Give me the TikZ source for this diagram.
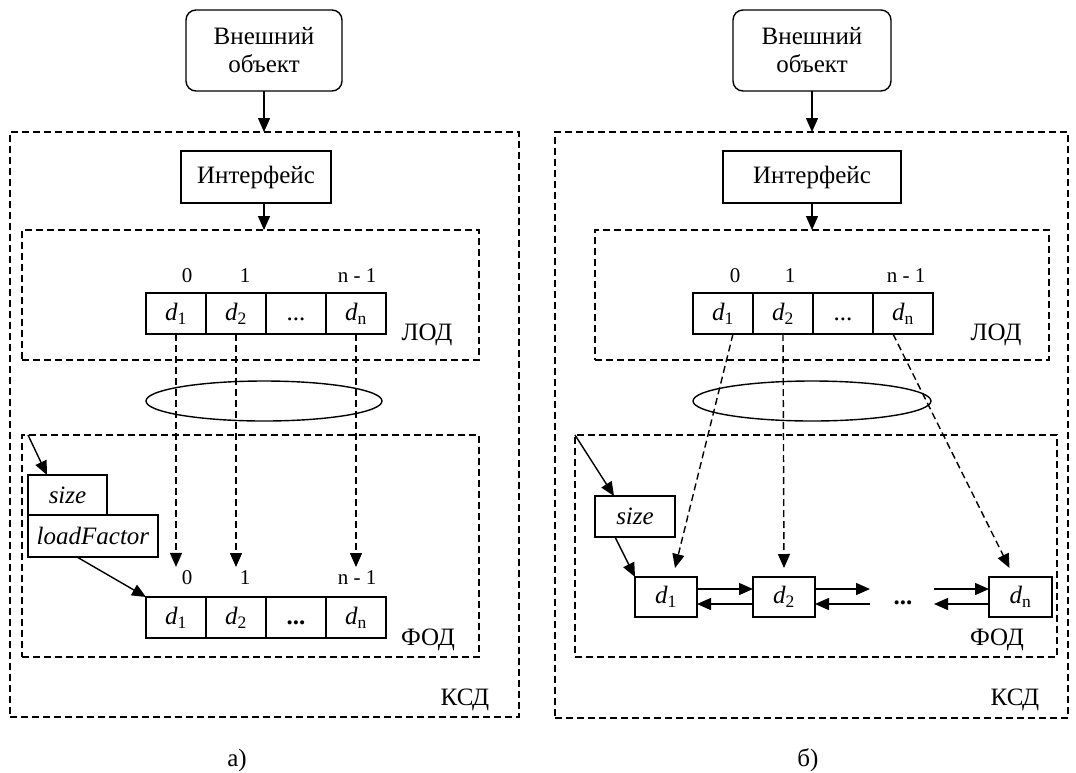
\documentclass[tikz,border=0pt]{standalone}
\usepackage{fontspec}
\setmainfont{Liberation Serif}
\usetikzlibrary{arrows.meta,positioning,shapes.geometric}

\begin{document}
\begin{tikzpicture}[x=1pt,y=-1pt,line width=1.4pt,
    >={Triangle[length=14pt,width=12pt]},
    every node/.style={font=\fontsize{25}{28}\selectfont},
    dashframe/.style={draw,line width=1.3pt,dash pattern=on 7pt off 4pt,inner sep=0pt,outer sep=0pt,anchor=north west},
    solidbox/.style={draw,inner sep=0pt,outer sep=0pt},
    cell/.style={solidbox,minimum width=60pt,minimum height=41pt},
    elem/.style={solidbox,minimum width=62pt,minimum height=40pt},
    idx/.style={font=\fontsize{21}{23}\selectfont},
    linkdash/.style={->,dash pattern=on 7pt off 4pt}]
        \useasboundingbox (0,0) rectangle (1076,772);

        % a) array
        \node[dashframe,minimum width=509pt,minimum height=585pt] (ksdA) at (10,132) {};
        \node[dashframe,minimum width=457pt,minimum height=130pt] (lodA) at (22,230) {};
        \node[dashframe,minimum width=457pt,minimum height=222pt] (fodA) at (22,435) {};
        \node[solidbox,rounded corners=10pt,minimum width=156pt,minimum height=81pt,align=center] (extA) at (264,50.5) {Внешний\\объект};
        \node[solidbox,minimum width=150pt,minimum height=52pt] (intA) at (256,177) {Интерфейс};
        \draw[->] (extA) -- (extA |- ksdA.north);
        \draw[->] (intA.south -| extA) -- (extA |- lodA.north);

        \node[cell] (la1) at (176,313.5) {\textit{d}\textsubscript{1}};
        \node[cell,right=0pt of la1] (la2) {\textit{d}\textsubscript{2}};
        \node[cell,right=0pt of la2] (la3) {\vphantom{\textit{d}\textsubscript{1}}...};
        \node[cell,right=0pt of la3] (la4) {\textit{d}\textsubscript{n}};
        \node[idx] (ia1) at (187,276) {0};
        \node[idx] (ia2) at (245,276) {1};
        \node[idx] (ia4) at (357,276) {n - 1};
        \node (lodlabA) at (427,335) {ЛОД};

        \node[draw,ellipse,minimum width=236pt,minimum height=40pt,inner sep=0pt] (ovA) at (264,401) {};

        \node[solidbox,minimum width=79pt,minimum height=40pt,anchor=north west] (szA) at (28,475) {\textit{size}};
        \node[solidbox,minimum width=130pt,minimum height=42pt,anchor=north west] (lfA) at (szA.south west) {\textit{loadFactor}};
        \node[cell] (fa1) at (176,617.5) {\textit{d}\textsubscript{1}};
        \node[cell,right=0pt of fa1] (fa2) {\textit{d}\textsubscript{2}};
        \node[cell,right=0pt of fa2] (fa3) {\vphantom{\textit{d}\textsubscript{1}}\textbf{...}};
        \node[cell,right=0pt of fa3] (fa4) {\textit{d}\textsubscript{n}};
        \node[idx] (ib1) at (187,578) {0};
        \node[idx] (ib2) at (245,578) {1};
        \node[idx] (ib4) at (357,578) {n - 1};
        \node (fodlabA) at (428,640) {ФОД};
        \node (ksdlabA) at (465,700) {КСД};

        \draw[linkdash] (la1.south) -- (la1.south |- ib1.north);
        \draw[linkdash] (la2.south) -- (la2.south |- ib2.north);
        \draw[linkdash] (la4.south) -- (la4.south |- ib4.north);
        \draw[->] ([xshift=6pt]fodA.north west) -- ([xshift=19pt]szA.north west);
        \draw[->] ([xshift=49pt]lfA.south west) -- (fa1.north west);

        \node (capA) at (237,760) {а)};

        % b) list
        \node[dashframe,minimum width=513pt,minimum height=586pt] (ksdB) at (555,132) {};
        \node[dashframe,minimum width=454pt,minimum height=130pt] (lodB) at (595,230) {};
        \node[dashframe,minimum width=482pt,minimum height=222pt] (fodB) at (575,435) {};
        \node[solidbox,rounded corners=10pt,minimum width=158pt,minimum height=81pt,align=center] (extB) at (812,50.5) {Внешний\\объект};
        \node[solidbox,minimum width=178pt,minimum height=52pt] (intB) at (812,177) {Интерфейс};
        \draw[->] (extB) -- (extB |- ksdB.north);
        \draw[->] (intB.south -| extB) -- (extB |- lodB.north);

        \node[cell] (lb1) at (723,313.5) {\textit{d}\textsubscript{1}};
        \node[cell,right=0pt of lb1] (lb2) {\textit{d}\textsubscript{2}};
        \node[cell,right=0pt of lb2] (lb3) {\vphantom{\textit{d}\textsubscript{1}}...};
        \node[cell,right=0pt of lb3] (lb4) {\textit{d}\textsubscript{n}};
        \node[idx] (ic1) at (735,276) {0};
        \node[idx] (ic2) at (790,276) {1};
        \node[idx] (ic4) at (906,276) {n - 1};
        \node (lodlabB) at (996,335) {ЛОД};

        \node[draw,ellipse,minimum width=238pt,minimum height=40pt,inner sep=0pt] (ovB) at (812,401) {};

        \node[solidbox,minimum width=80pt,minimum height=41pt,anchor=north west] (szB) at (595,496) {\textit{size}};
        \node[elem] (nb1) at (666,597) {\textit{d}\textsubscript{1}};
        \node[elem] (nb2) at (784,597) {\textit{d}\textsubscript{2}};
        \node[elem,minimum width=63pt] (nb4) at (1020.5,597) {\textit{d}\textsubscript{n}};
        \coordinate (gapL) at (870,597);
        \coordinate (gapR) at (934,597);
        \node (dotsB) at (903,603) {\textbf{...}};
        \node (fodlabB) at (997,640) {ФОД};
        \node (ksdlabB) at (1015,700) {КСД};

        \draw[->] (fodB.north west) -- ([xshift=19pt]szB.north west);
        \draw[->] ([xshift=20pt]szB.south west) -- (nb1.north west);
        \draw[linkdash] ([xshift=10pt]lb1.south) -- ([xshift=9pt,yshift=9pt]nb1.north);
        \draw[linkdash] (lb2.south) -- ([yshift=9pt]nb2.north);
        \draw[linkdash] ([xshift=-10pt]lb4.south) -- ([xshift=-11pt,yshift=9pt]nb4.north);
        \draw[->] ([yshift=8pt]nb1.east) -- ([yshift=8pt]nb2.west);
        \draw[->] ([yshift=-7pt]nb2.west) -- ([yshift=-7pt]nb1.east);
        \draw[->] ([yshift=8pt]nb2.east) -- ([yshift=8pt]gapL);
        \draw[->] ([yshift=-7pt]gapL) -- ([yshift=-7pt]nb2.east);
        \draw[->] ([yshift=8pt]gapR) -- ([yshift=8pt]nb4.west);
        \draw[->] ([yshift=-7pt]nb4.west) -- ([yshift=-7pt]gapR);

        \node (capB) at (808,760) {б)};
      \end{tikzpicture}
\end{document}
